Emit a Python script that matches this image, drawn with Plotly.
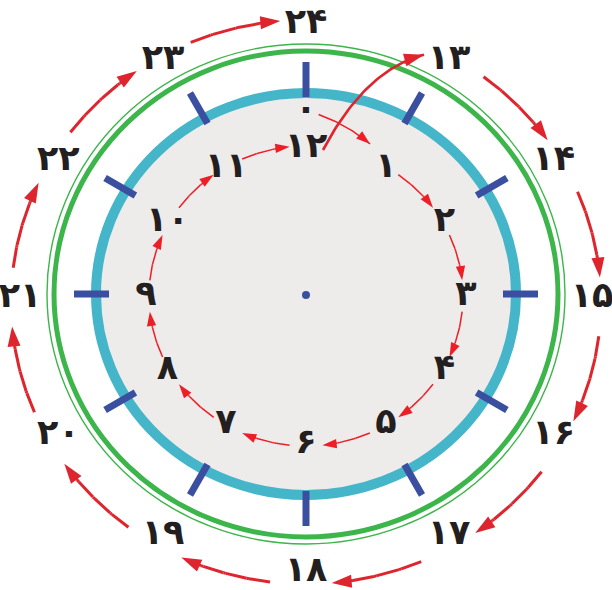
import numpy as np
import plotly.graph_objects as go

# ---------------- data ----------------
inner_hours = [1, 2, 3, 4, 5, 6, 7, 8, 9, 10, 11, 12]
inner_labels = ["۱", "۲", "۳", "۴", "۵", "۶", "۷", "۸", "۹", "۱۰", "۱۱", "۱۲"]
outer_hours = [13, 14, 15, 16, 17, 18, 19, 20, 21, 22, 23, 24]
outer_labels = ["۱۳", "۱۴", "۱۵", "۱۶", "۱۷", "۱۸", "۱۹", "۲۰", "۲۱", "۲۲", "۲۳", "۲۴"]
zero_hour = 0
zero_label = "۰"
tick_hours = list(range(12))

# ---------------- geometry / style ----------------
W, H = 612, 590
CX, CY = 306, 294
TICK_COLOR = "#3a4fa0"
RED_IN = "#ec1f27"
RED_OUT = "#de242c"
TEXT_COLOR = "#231f20"
FONT = "DejaVu Sans"


def ang(h):
    return (h % 12) * 30.0


def ell(theta_deg, rx, ry, cx=CX, cy=CY):
    t = np.radians(theta_deg)
    return cx + rx * np.sin(t), cy - ry * np.cos(t)


fig = go.Figure()

# rings (shapes)
shapes = [
    dict(type="circle", xref="x", yref="y", layer="below",
         x0=CX - 259, x1=CX + 259, y0=CY - 250, y1=CY + 250,
         line=dict(color="#3cb54a", width=1.4), fillcolor="rgba(0,0,0,0)"),
    dict(type="circle", xref="x", yref="y", layer="below",
         x0=CX - 252, x1=CX + 252, y0=CY - 243, y1=CY + 243,
         line=dict(color="#3cb54a", width=5), fillcolor="rgba(0,0,0,0)"),
    dict(type="circle", xref="x", yref="y", layer="below",
         x0=CX - 210, x1=CX + 210, y0=CY - 201, y1=CY + 201,
         line=dict(color="#45b5c9", width=10), fillcolor="#eeebeb"),
]

# hour ticks
tx, ty = [], []
for h in tick_hours:
    x1, y1 = ell(ang(h), 197, 197)
    x2, y2 = ell(ang(h), 232, 232)
    tx += [x1, x2, None]
    ty += [y1, y2, None]
fig.add_trace(go.Scatter(x=tx, y=ty, mode="lines",
                         line=dict(color=TICK_COLOR, width=7), hoverinfo="skip"))

# center dot
fig.add_trace(go.Scatter(x=[CX], y=[CY + 1], mode="markers",
                         marker=dict(color=TICK_COLOR, size=8), hoverinfo="skip"))


def arrow_trace(xs, ys, color, width, head):
    n = len(xs)
    sizes = [0] * (n - 1) + [head]
    return go.Scatter(
        x=list(xs), y=list(ys), mode="lines+markers",
        line=dict(color=color, width=width),
        marker=dict(symbol="arrow", angleref="previous", size=sizes,
                    color=color, opacity=1, line=dict(width=0)),
        hoverinfo="skip")


# inner arrows between consecutive inner hours
IRX, IRY, ICY = 157, 150, 296
for h in inner_hours[:-1]:
    th = np.linspace(ang(h) + 6, ang(h) + 24, 30)
    xs, ys = ell(th, IRX, IRY, cy=ICY)
    fig.add_trace(arrow_trace(xs, ys, RED_IN, 1.5, 15))

# zero -> one arrow (spiral)
th = np.linspace(ang(zero_hour) + 4, ang(inner_hours[0]) - 7, 30)
rr = np.linspace(181, 164, 30)
xs, ys = ell(th, rr, rr, cy=295)
fig.add_trace(arrow_trace(xs, ys, RED_IN, 1.5, 15))

# inner/outer label positions
ILX, ILY, ILCY = 160, 148, 296
OLX, OLY, OLCY = 286, 274, 298
in_pos = [ell(ang(h), ILX, ILY, cy=ILCY) for h in inner_hours]
out_pos = [ell(ang(h), OLX, OLY, cy=OLCY) for h in outer_hours]

# 12 -> 13 arrow (crossing the rings)
p0 = (in_pos[-1][0] + 17, in_pos[-1][1] + 2)
p2 = (out_pos[0][0] - 25, out_pos[0][1] - 6)
p1 = (p0[0] + 0.42 * (p2[0] - p0[0]), p2[1] + 15)
t = np.linspace(0, 1, 40)
bx = (1 - t) ** 2 * p0[0] + 2 * (1 - t) * t * p1[0] + t ** 2 * p2[0]
by = (1 - t) ** 2 * p0[1] + 2 * (1 - t) * t * p1[1] + t ** 2 * p2[1]
fig.add_trace(arrow_trace(bx, by, RED_OUT, 2.6, 21))

# outer arrows
ORX, ORY, OCY = 295, 282, 302
for h in outer_hours[:-1]:
    th = np.linspace(ang(h) + 7, ang(h) + 25, 40)
    xs, ys = ell(th, ORX, ORY, cy=OCY)
    fig.add_trace(arrow_trace(xs, ys, RED_OUT, 3, 21))

# labels
tf = dict(family=FONT, size=35, color=TEXT_COLOR, weight="bold")
fig.add_trace(go.Scatter(
    x=[p[0] for p in in_pos], y=[p[1] for p in in_pos], mode="text",
    text=inner_labels, textposition="middle center",
    textfont=tf, hoverinfo="skip"))
fig.add_trace(go.Scatter(
    x=[p[0] for p in out_pos], y=[p[1] for p in out_pos], mode="text",
    text=outer_labels, textposition="middle center",
    textfont=tf, hoverinfo="skip"))
zx, zy = ell(ang(zero_hour), 183, 183, cy=294)
fig.add_trace(go.Scatter(
    x=[zx], y=[zy], mode="text", text=[zero_label], textposition="middle center",
    textfont=tf, hoverinfo="skip"))

fig.update_layout(
    width=W, height=H, autosize=False,
    margin=dict(l=0, r=0, t=0, b=0),
    paper_bgcolor="white", plot_bgcolor="white",
    showlegend=False, shapes=shapes,
    xaxis=dict(range=[0, W], visible=False, fixedrange=True),
    yaxis=dict(range=[H, 0], visible=False, fixedrange=True),
)

fig.write_html("out.html",
               config={"displayModeBar": False, "staticPlot": True},
               post_script="document.body.style.margin='0';document.body.style.overflow='hidden';")
